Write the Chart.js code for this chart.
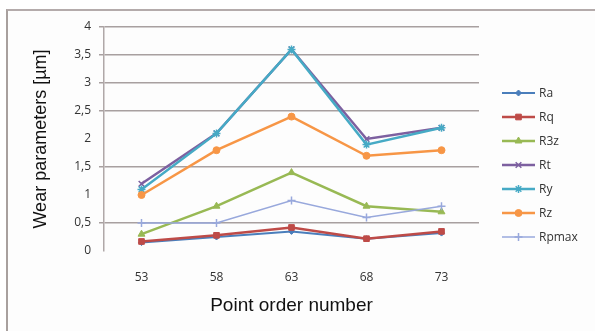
<!DOCTYPE html>
<html>
<head>
<meta charset="utf-8">
<script src="https://cdn.jsdelivr.net/npm/chart.js@4/dist/chart.umd.min.js"></script>
<style>
    html, body { margin: 0; padding: 0; background: #ffffff; }
    #wrap { position: relative; width: 595px; height: 331px; overflow: hidden; }
    #frame { position: absolute; left: 6px; top: 9px; width: 600px; height: 330px;
             border-left: 2px solid #a8a09e; border-top: 2px solid #b4abab; background: #fdfdfd; }
    canvas { position: absolute; left: 0; top: 0; }
</style>
</head>
<body>
<div id="wrap">
    <div id="frame"></div>
    <canvas id="wear" width="595" height="331"></canvas>
</div>
<script>
const punkte = ["53", "58", "63", "68", "73"];
const ra = [0.15, 0.25, 0.35, 0.22, 0.32];
const rq = [0.17, 0.28, 0.42, 0.22, 0.35];
const r3z = [0.3, 0.8, 1.4, 0.8, 0.7];
const rt = [1.2, 2.1, 3.6, 2.0, 2.2];
const ry = [1.1, 2.1, 3.6, 1.9, 2.2];
const rz = [1.0, 1.8, 2.4, 1.7, 1.8];
const rpmax = [0.5, 0.5, 0.9, 0.6, 0.8];
const yTicks = [0, 0.5, 1, 1.5, 2, 2.5, 3, 3.5, 4];

function serie(label, data, farbe, style, radius, breite, reihenfolge) {
    return {
        label: label,
        data: data,
        borderColor: farbe,
        backgroundColor: farbe,
        pointStyle: style,
        pointRadius: radius,
        pointBorderWidth: style === "crossRot" || style === "cross" || style === "star" ? 1.5 : 1,
        borderWidth: breite,
        tension: 0,
        order: reihenfolge,
    };
}

// eigene Legende: Linie + Marker wie in Excel
const legende = {
    id: "legende",
    afterDraw(chart) {
        const ctx = chart.ctx;
        ctx.save();
        chart.data.datasets.forEach((ds, i) => {
            const y = 93 + i * 24;
            ctx.strokeStyle = ds.borderColor;
            ctx.lineWidth = ds.borderWidth;
            ctx.beginPath();
            ctx.moveTo(502, y);
            ctx.lineTo(535, y);
            ctx.stroke();
            ctx.fillStyle = ds.backgroundColor;
            ctx.lineWidth = ds.pointBorderWidth;
            Chart.helpers.drawPoint(ctx, { pointStyle: ds.pointStyle, radius: ds.pointRadius, rotation: 0, borderWidth: ds.pointBorderWidth }, 518.5, y);
            ctx.fillStyle = "#333333";
            ctx.font = "12px 'Open Sans'";
            ctx.textBaseline = "middle";
            ctx.textAlign = "left";
            ctx.fillText(ds.label, 539, y + 1);
        });
        ctx.restore();
    },
};

new Chart(document.getElementById("wear"), {
    type: "line",
    data: {
        labels: punkte,
        datasets: [
            serie("Ra", ra, "#4a7ebb", "rectRot", 3, 2, 7),
            serie("Rq", rq, "#be4b48", "rect", 4, 2.5, 6),
            serie("R3z", r3z, "#98b954", "triangle", 4, 2.5, 5),
            serie("Rt", rt, "#7d60a0", "crossRot", 4, 2.5, 4),
            serie("Ry", ry, "#46aac5", "star", 4, 2.5, 3),
            serie("Rz", rz, "#f79646", "circle", 3.5, 2.5, 2),
            serie("Rpmax", rpmax, "#98a8dc", "cross", 4, 1.5, 1),
        ],
    },
    options: {
        responsive: false,
        animation: false,
        layout: { padding: { left: 26, right: 116, top: 27, bottom: 10 } },
        plugins: { legend: { display: false }, tooltip: { enabled: false } },
        scales: {
            x: {
                offset: true,
                grid: { display: false },
                border: { display: false },
                ticks: { color: "#333333", font: { family: "Open Sans", size: 12 }, padding: 11 },
                title: { display: true, text: "Point order number", color: "#111111",
                         font: { family: "Liberation Sans", size: 19 }, padding: { top: 17 } },
                afterFit(scale) { scale.height = 70; },
            },
            y: {
                min: 0,
                max: 4,
                afterBuildTicks(scale) { scale.ticks = yTicks.map((v) => ({ value: v })); },
                grid: {
                    color: (c) => (c.tick && (c.tick.value === 1 || c.tick.value === 2 || c.tick.value === 0) ? "rgba(0,0,0,0)" : "#a8a0a0"),
                    lineWidth: 1.5,
                    tickLength: 5,
                },
                border: { display: true, color: "#b0a8a8", width: 1.5 },
                ticks: {
                    color: "#333333",
                    font: { family: "Open Sans", size: 12 },
                    padding: 8,
                    callback: (v) => String(v).replace(".", ","),
                },
                title: { display: true, text: "Wear parameters [µm]", color: "#111111",
                         font: { family: "Liberation Sans", size: 18 }, padding: { bottom: 4 } },
                afterFit(scale) { scale.width = 78; },
            },
        },
    },
    plugins: [legende],
});
</script>
</body>
</html>
